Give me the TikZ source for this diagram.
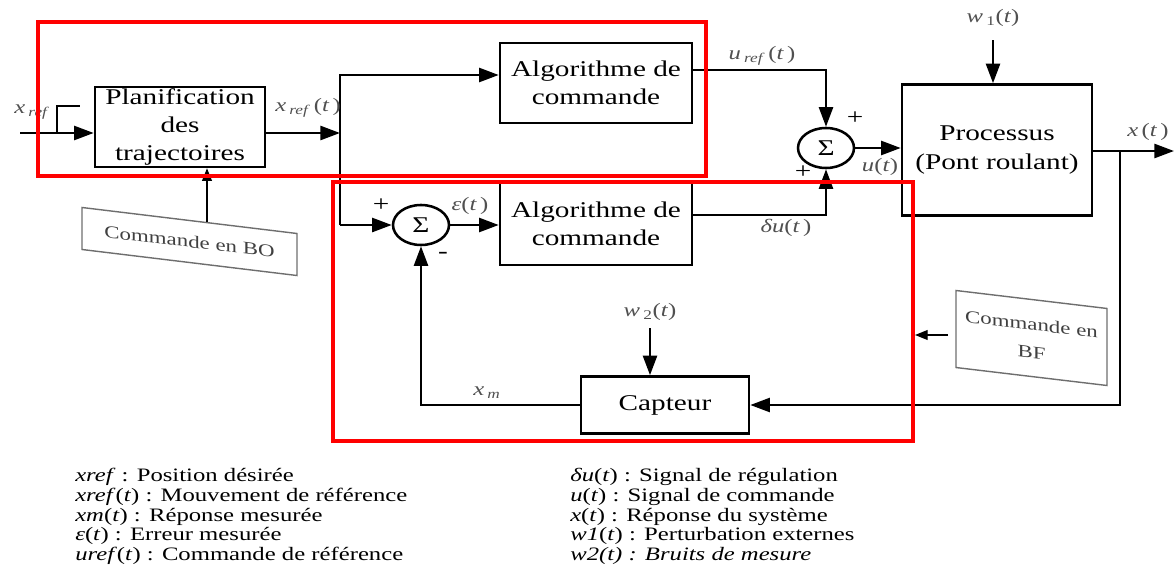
\documentclass[tikz,border=0pt]{standalone}
\usepackage{fontspec}
\setmainfont{Liberation Serif}[FakeStretch=1.3]
\usetikzlibrary{arrows.meta,shapes.geometric}
\definecolor{sig}{HTML}{505050}
\definecolor{zone}{HTML}{FF0000}
\definecolor{cmd}{HTML}{6E6E6E}
\newcommand{\blkfont}{\fontsize{16}{20}\selectfont}
\newcommand{\sigfont}{\fontsize{13.5}{15}\selectfont}
\newcommand{\legfont}{\fontsize{13.5}{16}\selectfont}
\newcommand{\cmdfont}{\fontsize{12.5}{20}\selectfont}
\tikzset{
  blk/.style={draw, line width=1.8pt, align=center, font=\blkfont, inner sep=0pt},
  sumnode/.style={draw, ellipse, line width=1.8pt, minimum width=1.4cm, minimum height=1.0cm, inner sep=0pt, font=\blkfont},
  wire/.style={line width=1.8pt},
  arr/.style={line width=1.8pt, -{Triangle[length=14pt,width=10pt]}},
  thinarr/.style={line width=0.9pt, -{Triangle[length=9pt,width=7pt]}},
  sig/.style={text=sig, font=\sigfont},
  sign/.style={font=\fontsize{16}{16}\selectfont},
  cmdbox/.style={draw=cmd, line width=1pt, text=black!75, font=\cmdfont, align=center, inner sep=0pt, transform shape},
  zonebox/.style={draw=zone, line width=2.6pt},
  leg/.style={anchor=west, font=\legfont, inner sep=0pt},
}
\begin{document}
\begin{tikzpicture}[x=0.025cm, y=-0.025cm]
% 1 unit = 1 px of the 1176x585 frame, y downwards
\useasboundingbox (0,0) rectangle (1176,585);
\node[blk, minimum width=4.25cm, minimum height=2cm] (plan) at (180,127) {Planification\\des\\trajectoires};
\node[blk, minimum width=4.8cm, minimum height=2cm] (algo1) at (596,83) {Algorithme de\\commande};
\node[blk, minimum width=4.8cm, minimum height=2.05cm] (algo2) at (596,224) {Algorithme de\\commande};
\node[sumnode] (sum1) at (826,148) {Σ};
\node[sumnode] (sum2) at (421,225) {Σ};
\node[blk, minimum width=4.75cm, minimum height=3.275cm] (proc) at (997,150) {Processus\\(Pont roulant)};
\node[blk, minimum width=4.2cm, minimum height=1.425cm] (capt) at (665,405) {Capteur};
% forward path
\coordinate (in) at (20,133);
\coordinate (s1) at (340,75);
\coordinate (s2) at (340,225);
\draw[arr] (in) -- (plan.west |- in);
\draw[wire] (57,133) -- (57,106) -- (80,106);
\draw[arr] (plan.east |- in) -- (in -| s1);
\draw[arr] (s2) |- (s1 -| algo1.west);
\draw[arr] (s2) -- (sum2.west);
\draw[arr] (sum2.east) -- (algo2.west |- sum2);
\draw[arr] ([yshift=0.325cm]algo1.east) -| (sum1.north);
\draw[arr] ([yshift=0.225cm]algo2.east) -| (sum1.south);
\draw[arr] (sum1.east) -- (proc.west |- sum1);
\coordinate (out) at (1174,151);
\coordinate (br) at (1120,151);
\draw[arr] (proc.east |- out) -- (out);
% feedback
\draw[arr] (br) |- (capt.east);
\draw[arr] (capt.west) -| (sum2.south);
\coordinate (w1) at (993,40);
\coordinate (w2) at (650,328);
\draw[arr] (w1) -- (w1 |- proc.north);
\draw[arr] (w2) -- (w2 |- capt.north);
% signal labels
\node[sig] (lxref) at (32,112) {\textit{x}\,\textsubscript{\textit{ref}}};
\node[sig] (lxreft) at (308,108) {\textit{x}\,\textsubscript{\textit{ref}}\,(\textit{t}\,)};
\node[sig] (luref) at (762,56) {\textit{u}\,\textsubscript{\textit{ref}}\,(\textit{t}\,)};
\node[sig] (lu) at (880,167) {\textit{u}(\textit{t})};
\node[sig] (ldu) at (786,228) {\textit{δu}(\textit{t}\,)};
\node[sig] (leps) at (470,206) {\textit{ε}(\textit{t}\,)};
\node[sig] (lx) at (1148,132) {\textit{x}\,(\textit{t}\,)};
\node[sig] (lw1) at (993,18) {\textit{w}\,\textsubscript{1}(\textit{t})};
\node[sig] (lw2) at (650,312) {\textit{w}\,\textsubscript{2}(\textit{t})};
\node[sig] (lxm) at (487,393) {\textit{x}\,\textsubscript{\textit{m}}};
\node[sign] (p1) at (855,118) {+};
\node[sign] (p2) at (803,172) {+};
\node[sign] (p3) at (381,205) {+};
\node[sign] (m1) at (443,255) {-};
% open / closed loop tags
\node[cmdbox, yslant=-0.121, minimum width=5.375cm, minimum height=1.05cm] (bo) at (189.5,241.5) {Commande en BO};
\coordinate (botop) at (207,222);
\draw[thinarr] (botop) -- (botop |- plan.south);
\node[cmdbox, yslant=-0.119, minimum width=3.775cm, minimum height=1.925cm] (bf) at (1031.5,338) {Commande en\\BF};
\coordinate (bfa) at (948,335);
\coordinate (bfb) at (915,335);
\draw[thinarr] (bfa) -- (bfb);
\draw[zonebox] (38,22) rectangle (706,176);
\draw[zonebox] (333,182) rectangle (913,441);
% legend
\foreach \i/\y/\t in {1/477/{\textit{xref} : Position désirée},
    2/497/{\textit{xref}(\textit{t}) : Mouvement de référence},
    3/517/{\textit{xm}(\textit{t}) : Réponse mesurée},
    4/536/{\textit{ε}(\textit{t}) : Erreur mesurée},
    5/556/{\textit{uref}(\textit{t}) : Commande de référence}}
  {\node[leg] (legl\i) at (75,\y) {\t};}
\foreach \i/\y/\t in {1/477/{\textit{δu}(\textit{t}) : Signal de régulation},
    2/497/{\textit{u}(\textit{t}) : Signal de commande},
    3/517/{\textit{x}(\textit{t}) : Réponse du système},
    4/536/{\textit{w1}(\textit{t}) : Perturbation externes},
    5/556/{\textit{w2(t) : Bruits de mesure}}}
  {\node[leg] (legr\i) at (570,\y) {\t};}
\end{tikzpicture}
\end{document}
